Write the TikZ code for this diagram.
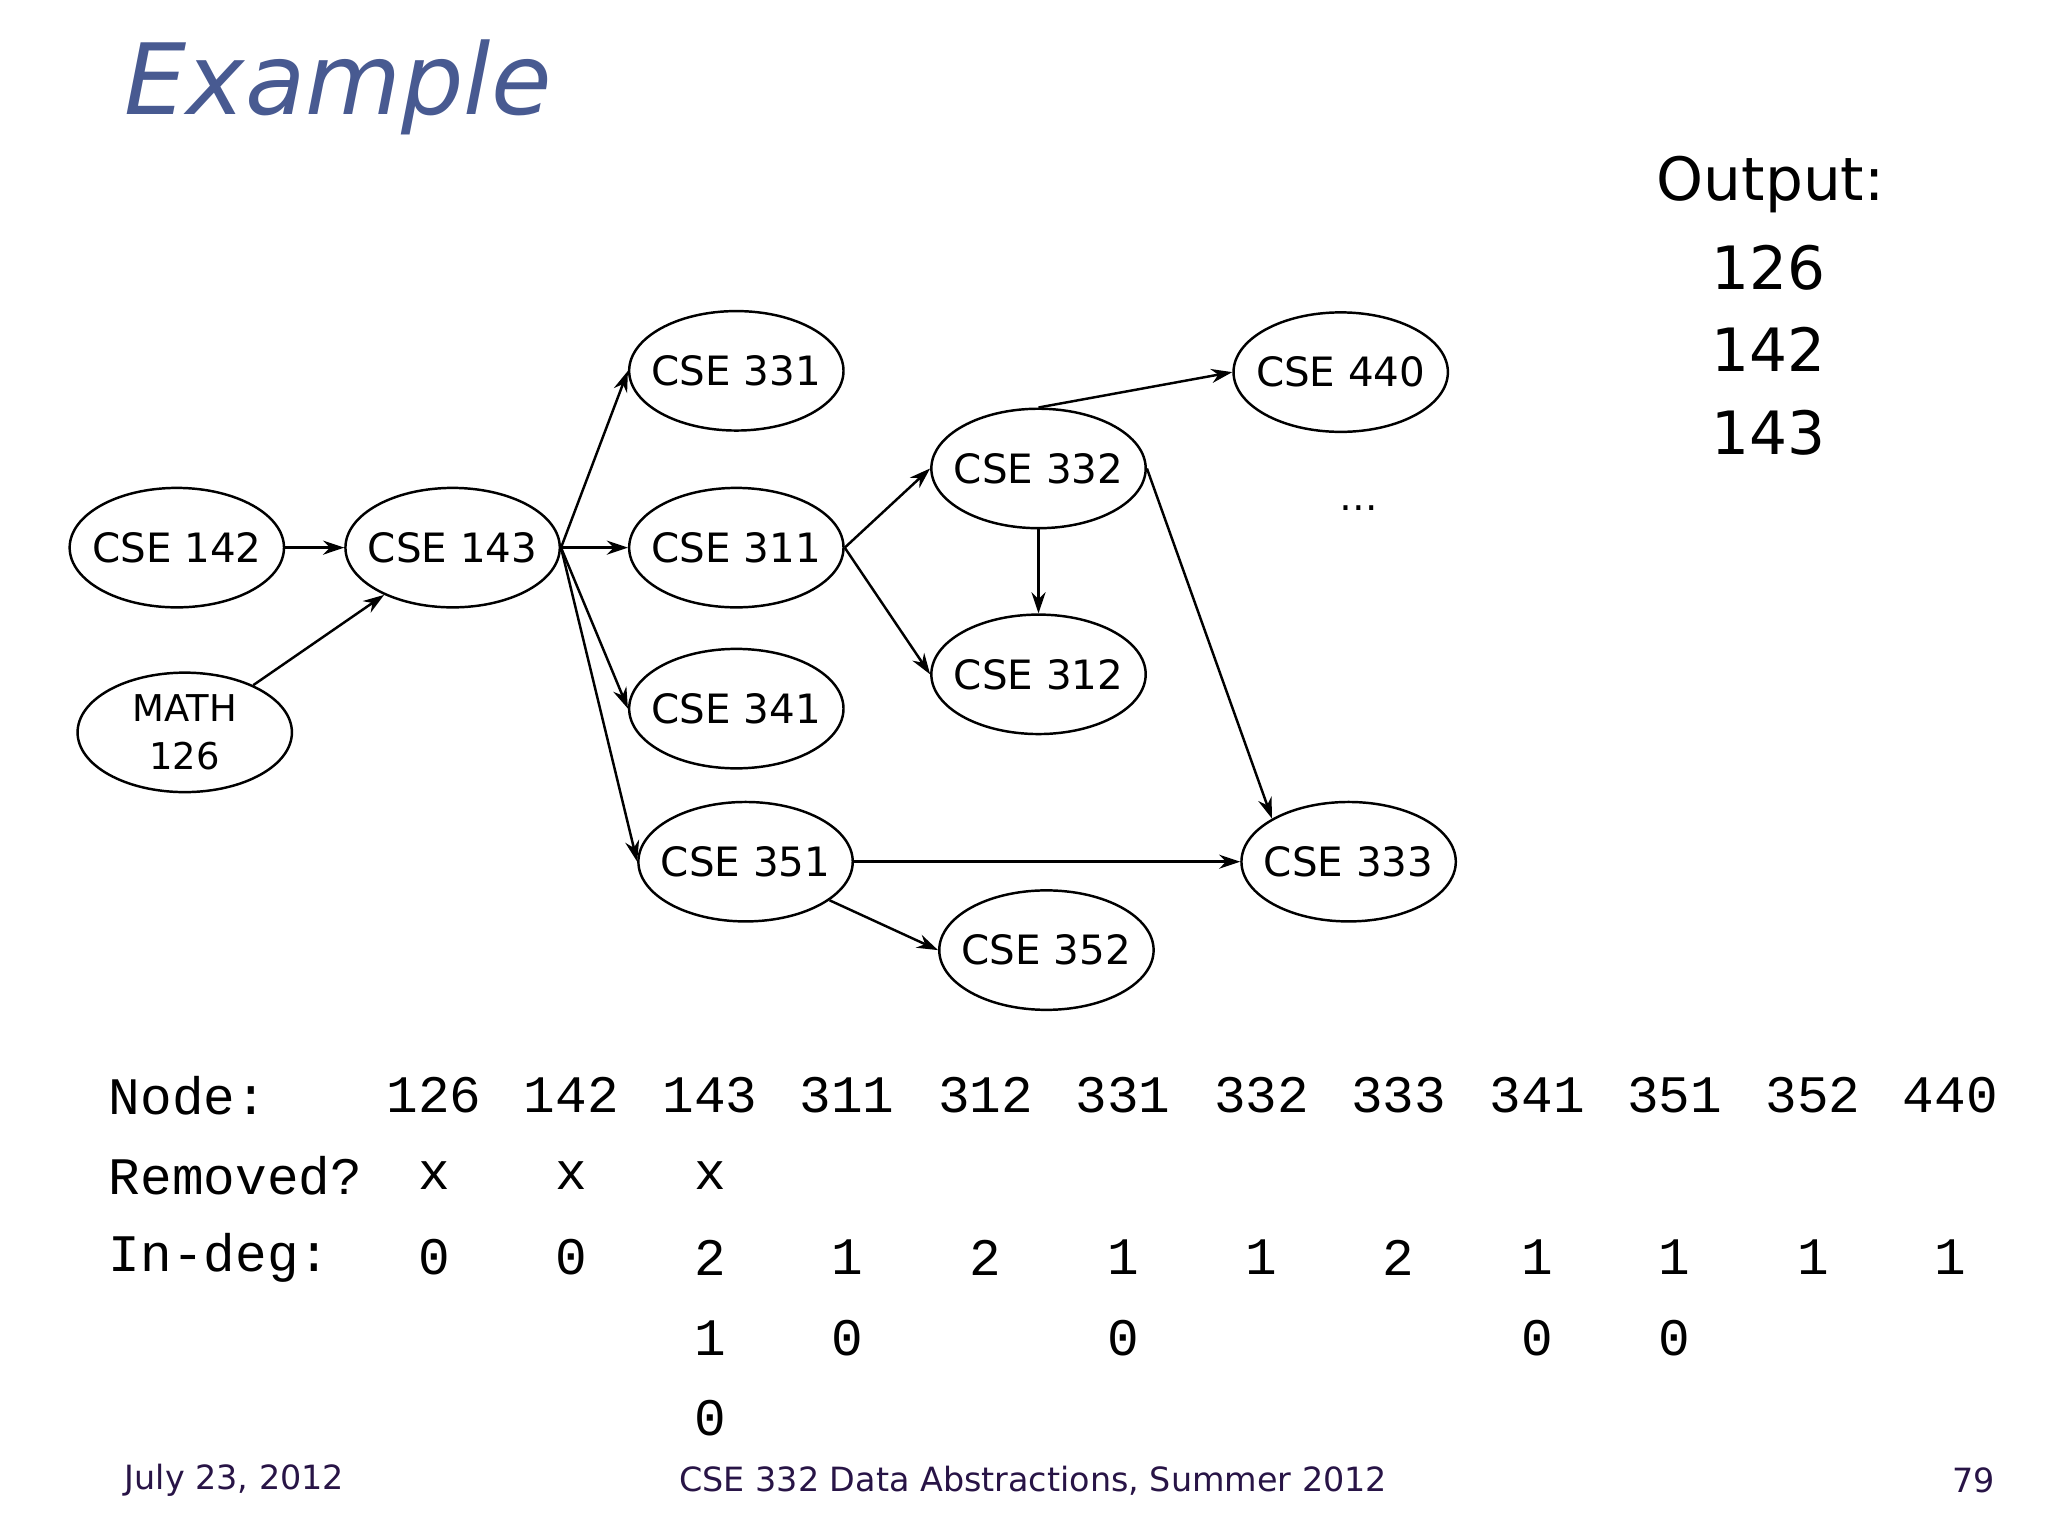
\documentclass[tikz,border=0pt]{standalone}
\usepackage{fontspec}
\setmainfont{DejaVu Sans}
\newfontfamily\monof{Liberation Mono}
\usetikzlibrary{shapes.geometric,arrows.meta}
\definecolor{titleblue}{RGB}{72,90,145}
\definecolor{footc}{RGB}{40,20,70}
\tikzset{
  course/.style={ellipse,draw,line width=0.7pt,minimum width=61pt,minimum height=34pt,inner xsep=-6pt,inner ysep=5pt,font=\fontsize{11.5}{13}\selectfont},
  arr/.style={-{Stealth[length=6pt,width=4pt]},line width=0.7pt},
  tab/.style={font=\monof\fontsize{15}{18}\selectfont,inner sep=0pt},
  foot/.style={font=\fontsize{9.5}{12}\selectfont,text=footc,inner sep=0pt}
}
\begin{document}
\begin{tikzpicture}[x=0.0132cm,y=-0.0132cm]
\path[use as bounding box] (0,0) rectangle (1552,1164);
\node[anchor=west,inner sep=0pt,text=titleblue,font=\itshape\fontsize{28}{34}\selectfont] (title) at (94,66) {Example};
\node[course] (n142) at (134,415) {CSE 142};
\node[course] (n143) at (343,415) {CSE 143};
\node[course,align=center,inner ysep=-2pt,font=\fontsize{10.5}{13.5}\selectfont] (n126) at (140,555) {MATH\\126};
\node[course] (n331) at (558,281) {CSE 331};
\node[course] (n311) at (558,415) {CSE 311};
\node[course] (n341) at (558,537) {CSE 341};
\node[course] (n351) at (565,653) {CSE 351};
\node[course] (n332) at (787,355) {CSE 332};
\node[course] (n312) at (787,511) {CSE 312};
\node[course] (n352) at (793,720) {CSE 352};
\node[course] (n440) at (1016,282) {CSE 440};
\node[course] (n333) at (1022,653) {CSE 333};
\node[font=\fontsize{11}{13}\selectfont] (dots) at (1030,385) {\dots};
\draw[arr] (n142) -- (n143);
\draw[arr] (n126) -- (n143);
\draw[arr] (n143.east) -- (n331.west);
\draw[arr] (n143.east) -- (n311.west);
\draw[arr] (n143.east) -- (n341.west);
\draw[arr] (n143.east) -- (n351.west);
\draw[arr] (n311.east) -- (n332.west);
\draw[arr] (n311.east) -- (n312.west);
\draw[arr] (n332) -- (n312);
\draw[arr] (n332.north) -- (n440.west);
\draw[arr] (n332.east) -- (n333.north west);
\draw[arr] (n351.east) -- (n333.west);
\draw[arr] (n351) -- (n352.west);
\node[anchor=west,inner sep=0pt,font=\fontsize{17}{20}\selectfont] (outl) at (1255,140) {Output:};
\node[inner sep=0pt,font=\fontsize{17}{20}\selectfont] (o1) at (1340,203) {126};
\node[inner sep=0pt,font=\fontsize{17}{20}\selectfont] (o2) at (1340,265) {142};
\node[inner sep=0pt,font=\fontsize{17}{20}\selectfont] (o3) at (1340,328) {143};
\node[tab,anchor=west] (lnode) at (82,830) {Node:};
\node[tab,anchor=west] (lrem) at (82,891) {Removed?};
\node[tab,anchor=west] (ldeg) at (82,953) {In-deg:};
\foreach \x/\n/\d in {329/126/0,433/142/0,538/143/2,642/311/1,747/312/2,851/331/1,956/332/1,1060/333/2,1165/341/1,1269/351/1,1374/352/1,1478/440/1}{
  \node[tab] (h\n) at (\x,830) {\n};
  \node[tab] (d\n) at (\x,953) {\d};
}
\foreach \x/\n in {329/a,433/b,538/c}{\node[tab] (r\n) at (\x,891) {x};}
\foreach \x/\n/\v in {538/a/1,642/b/0,851/c/0,1165/d/0,1269/e/0}{\node[tab] (s\n) at (\x,1014) {\v};}
\node[tab] (t1) at (538,1075) {0};
\node[foot,anchor=west] (f1) at (94,1122) {July 23, 2012};
\node[foot] (f2) at (783,1122) {CSE 332 Data Abstractions, Summer 2012};
\node[foot,anchor=east] (f3) at (1512,1122) {79};
\end{tikzpicture}
\end{document}
